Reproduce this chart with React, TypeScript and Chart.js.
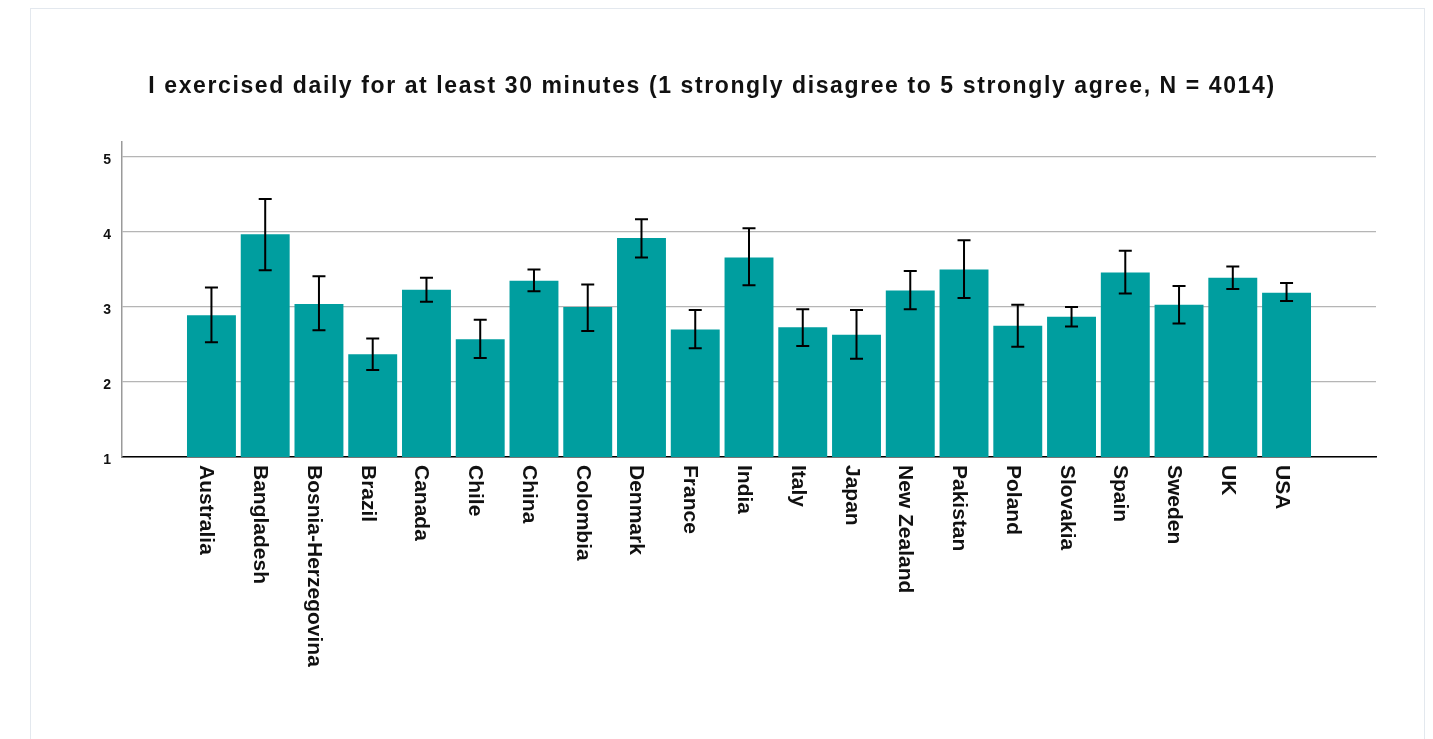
import React, { useEffect, useRef } from "react";
import { Chart, registerables } from "chart.js";

Chart.register(...registerables);

const TITLE = "I exercised daily for at least 30 minutes (1 strongly disagree to 5 strongly agree, N = 4014)";

const countries = [
  "Australia", "Bangladesh", "Bosnia-Herzegovina", "Brazil", "Canada", "Chile", "China",
  "Colombia", "Denmark", "France", "India", "Italy", "Japan", "New Zealand", "Pakistan",
  "Poland", "Slovakia", "Spain", "Sweden", "UK", "USA",
];

const means = [
  2.89, 3.97, 3.04, 2.37, 3.23, 2.57, 3.35, 3.0, 3.92, 2.7, 3.66, 2.73, 2.63, 3.22, 3.5,
  2.75, 2.87, 3.46, 3.03, 3.39, 3.19,
];

const errLow = [
  2.53, 3.49, 2.69, 2.16, 3.07, 2.32, 3.21, 2.68, 3.66, 2.45, 3.29, 2.48, 2.31, 2.97, 3.12,
  2.47, 2.74, 3.18, 2.78, 3.24, 3.08,
];

const errHigh = [
  3.26, 4.44, 3.41, 2.58, 3.39, 2.83, 3.5, 3.3, 4.17, 2.96, 4.05, 2.97, 2.96, 3.48, 3.89,
  3.03, 3.0, 3.75, 3.28, 3.54, 3.32,
];

const yTicks = [1, 2, 3, 4, 5];

const BAR_COLOR = "#009e9f";
const TEXT_COLOR = "#111111";

export default function App() {
  const canvasRef = useRef<HTMLCanvasElement | null>(null);

  useEffect(() => {
    const canvas = canvasRef.current;
    if (!canvas) return;

    const errorBarPlugin = {
      id: "errorBars",
      afterDatasetsDraw(chart: any) {
        const { ctx, scales } = chart;
        const xs = scales.x;
        const ys = scales.y;
        ctx.save();
        ctx.strokeStyle = "#000000";
        ctx.lineWidth = 2;
        const cap = 6.5;
        countries.forEach((_, i) => {
          const x = xs.getPixelForValue(i);
          const yl = ys.getPixelForValue(errLow[i]);
          const yh = ys.getPixelForValue(errHigh[i]);
          ctx.beginPath();
          ctx.moveTo(x, yl);
          ctx.lineTo(x, yh);
          ctx.moveTo(x - cap, yl);
          ctx.lineTo(x + cap, yl);
          ctx.moveTo(x - cap, yh);
          ctx.lineTo(x + cap, yh);
          ctx.stroke();
        });
        ctx.restore();
      },
    };

    const textPlugin = {
      id: "customText",
      afterDraw(chart: any) {
        const { ctx, scales, chartArea } = chart;
        const xs = scales.x;
        ctx.save();
        // Title
        ctx.fillStyle = TEXT_COLOR;
        ctx.font = 'bold 23px "Liberation Sans", Arial, sans-serif';
        (ctx as any).letterSpacing = "1.6px";
        ctx.textAlign = "center";
        ctx.textBaseline = "alphabetic";
        ctx.fillText(TITLE, 712, 93);
        (ctx as any).letterSpacing = "0px";
        // Rotated category labels
        ctx.font = 'bold 21px "Liberation Sans", Arial, sans-serif';
        ctx.textAlign = "left";
        ctx.textBaseline = "alphabetic";
        countries.forEach((label, i) => {
          const x = xs.getPixelForValue(i);
          ctx.save();
          ctx.translate(x, chartArea.bottom + 8);
          ctx.rotate(Math.PI / 2);
          ctx.fillText(label, 0, 11);
          ctx.restore();
        });
        ctx.restore();
      },
    };

    const chart = new Chart(canvas, {
      type: "bar",
      data: {
        datasets: [
          {
            data: means.map((v, i) => ({ x: i, y: v })),
            backgroundColor: BAR_COLOR,
            borderWidth: 0,
            barPercentage: 0.91,
            categoryPercentage: 1,
          },
        ],
      },
      options: {
        responsive: false,
        animation: false,
        devicePixelRatio: 1,
        layout: { padding: { top: 142, right: 57, bottom: 0, left: 0 } },
        plugins: {
          legend: { display: false },
          title: { display: false },
          tooltip: { enabled: false },
        },
        scales: {
          x: {
            type: "linear",
            offset: false,
            bounds: "data",
            min: -1.664,
            max: countries.length - 1 + 1.664,
            grid: { display: false },
            border: { display: true, color: "#000000", width: 1.5 },
            ticks: { display: false },
            afterBuildTicks(scale: any) {
              scale.ticks = countries.map((_, i) => ({ value: i }));
            },
            afterFit(scale: any) {
              scale.height = 282;
            },
          },
          y: {
            type: "linear",
            min: 1,
            max: 5.2,
            grid: { color: "#b5b5b5", lineWidth: 1.2, drawTicks: false },
            border: { display: true, color: "#9a9a9a", width: 1.5 },
            ticks: {
              stepSize: 1,
              padding: 11,
              labelOffset: 3,
              color: TEXT_COLOR,
              font: { family: '"Liberation Sans", Arial, sans-serif', size: 14, weight: "bold" },
            },
            afterBuildTicks(scale: any) {
              scale.ticks = yTicks.map((v) => ({ value: v }));
            },
            afterFit(scale: any) {
              scale.width = 122;
            },
          },
        },
      } as any,
      plugins: [errorBarPlugin, textPlugin],
    });

    return () => {
      chart.destroy();
    };
  }, []);

  return (
    <div
      style={{
        position: "absolute",
        left: 0,
        top: 0,
        width: 1433,
        height: 739,
        overflow: "hidden",
        background: "#ffffff",
      }}
    >
      <div
        style={{
          position: "absolute",
          left: 30,
          top: 8,
          width: 1393,
          height: 800,
          border: "1px solid #e3e8ee",
          background: "#ffffff",
        }}
      />
      <canvas
        ref={canvasRef}
        width={1433}
        height={739}
        style={{ position: "absolute", left: 0, top: 0, display: "block" }}
      />
    </div>
  );
}
